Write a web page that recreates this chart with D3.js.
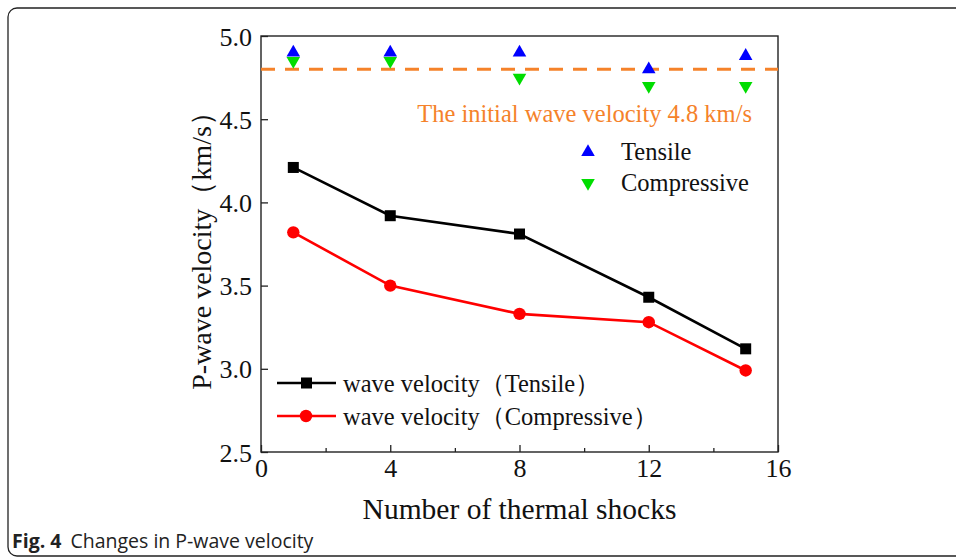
<!DOCTYPE html>
<html>
<head>
<meta charset="utf-8">
<script src="https://cdn.jsdelivr.net/npm/d3@7"></script>
<style>
  body { margin: 0; background: #fff; }
  svg { display: block; }
</style>
</head>
<body>
<div id="chart"></div>
<script>
// *** DATA ***
let shocks = [1, 4, 8, 12, 15];
let velTensile = [4.21, 3.92, 3.81, 3.43, 3.12];
let velCompressive = [3.82, 3.50, 3.33, 3.28, 2.99];
let triTensile = [4.90, 4.90, 4.90, 4.80, 4.88];
let triCompressive = [4.85, 4.85, 4.75, 4.70, 4.70];
let initialVelocity = 4.8;
let xTicks = [0, 4, 8, 12, 16];
let xMinorTicks = [2, 6, 10, 14];
let yTicks = [2.5, 3.0, 3.5, 4.0, 4.5, 5.0];

// *** SETTINGS ***
let width = 956, height = 559;
let plot = {left: 261, right: 778, top: 36, bottom: 452};
let serif = "'Liberation Serif', 'Times New Roman', serif";
let colors = {orange: "#f5822a", blue: "#0000ff", green: "#00dd00", red: "#ff0000", black: "#000"};
let legendFont = "24.5px";

let svg = d3.select("#chart").append("svg")
  .attr("width", width)
  .attr("height", height);

// outer frame
svg.append("rect")
  .attr("x", 8).attr("y", 8)
  .attr("width", 980).attr("height", 548)
  .attr("rx", 9).attr("ry", 9)
  .attr("fill", "none")
  .attr("stroke", "#222")
  .attr("stroke-width", 1.3);

// scales
let x = d3.scaleLinear().domain([0, 16]).range([plot.left, plot.right]);
let y = d3.scaleLinear().domain([2.5, 5.0]).range([plot.bottom, plot.top]);

// axes (ticks inside)
let xAxis = svg.append("g")
  .attr("transform", `translate(0,${plot.bottom})`)
  .call(d3.axisBottom(x).tickValues(xTicks).tickSize(-7).tickPadding(7).tickFormat(d3.format("d")));
svg.append("g")
  .attr("transform", `translate(0,${plot.bottom})`)
  .call(d3.axisBottom(x).tickValues(xMinorTicks).tickSize(-4).tickFormat(""))
  .call(g => g.select(".domain").remove())
  .selectAll("line").attr("stroke", "#222").attr("stroke-width", 1.3);

let yAxis = svg.append("g")
  .attr("transform", `translate(${plot.left},0)`)
  .call(d3.axisLeft(y).tickValues(yTicks).tickSize(-7).tickPadding(9).tickFormat(d3.format(".1f")));

[xAxis, yAxis].forEach(g => {
  g.selectAll("text").style("font-family", serif).style("font-size", "26px").attr("fill", "#111");
  g.selectAll("line").attr("stroke", "#222").attr("stroke-width", 1.3);
  g.select(".domain").remove();
});
xAxis.selectAll("text").attr("dy", "0.71em");
yAxis.selectAll("text").attr("dy", "0.35em");

// plot box
svg.append("rect")
  .attr("x", plot.left).attr("y", plot.top)
  .attr("width", plot.right - plot.left).attr("height", plot.bottom - plot.top)
  .attr("fill", "none")
  .attr("stroke", "#222")
  .attr("stroke-width", 1.4);

// axis titles
svg.append("text")
  .attr("x", (plot.left + plot.right) / 2)
  .attr("y", 519)
  .attr("text-anchor", "middle")
  .style("font-family", serif)
  .style("font-size", "29.5px")
  .attr("fill", "#111")
  .text("Number of thermal shocks");

svg.append("text")
  .attr("transform", `translate(211,${(plot.top + plot.bottom) / 2}) rotate(-90)`)
  .attr("text-anchor", "middle")
  .style("font-family", serif)
  .style("font-size", "28px")
  .attr("fill", "#111")
  .text("P-wave velocity（km/s）");

// initial velocity dashed line
svg.append("line")
  .attr("x1", plot.left).attr("x2", plot.right)
  .attr("y1", y(initialVelocity)).attr("y2", y(initialVelocity))
  .attr("stroke", colors.orange)
  .attr("stroke-width", 3)
  .attr("stroke-dasharray", "14,10");

svg.append("text")
  .attr("x", 752)
  .attr("y", 122)
  .attr("text-anchor", "end")
  .style("font-family", serif)
  .style("font-size", legendFont)
  .attr("fill", colors.orange)
  .text("The initial wave velocity 4.8 km/s");

// lines
let line = d3.line().x(d => x(d[0])).y(d => y(d[1]));
let tensileData = shocks.map((s, i) => [s, velTensile[i]]);
let compData = shocks.map((s, i) => [s, velCompressive[i]]);

svg.append("path").datum(tensileData)
  .attr("d", line).attr("fill", "none")
  .attr("stroke", colors.black).attr("stroke-width", 2.6);
svg.append("path").datum(compData)
  .attr("d", line).attr("fill", "none")
  .attr("stroke", colors.red).attr("stroke-width", 2.6);

svg.selectAll("rect.sq").data(tensileData).enter()
  .append("rect").attr("class", "sq")
  .attr("x", d => x(d[0]) - 5.5).attr("y", d => y(d[1]) - 5.5)
  .attr("width", 11).attr("height", 11)
  .attr("fill", colors.black);

svg.selectAll("circle.dot").data(compData).enter()
  .append("circle").attr("class", "dot")
  .attr("cx", d => x(d[0])).attr("cy", d => y(d[1]))
  .attr("r", 6.2)
  .attr("fill", colors.red);

// triangles
let tri = d3.symbol().type(d3.symbolTriangle).size(80);

svg.selectAll("path.up").data(shocks).enter()
  .append("path").attr("class", "up")
  .attr("d", tri)
  .attr("transform", (d, i) => `translate(${x(d)},${y(triTensile[i])})`)
  .attr("fill", colors.blue);

svg.selectAll("path.down").data(shocks).enter()
  .append("path").attr("class", "down")
  .attr("d", tri)
  .attr("transform", (d, i) => `translate(${x(d)},${y(triCompressive[i])}) rotate(180)`)
  .attr("fill", colors.green);

// legend for triangles
let lgTri = [
  {label: "Tensile", color: colors.blue, rot: 0, y: 152},
  {label: "Compressive", color: colors.green, rot: 180, y: 183}
];
lgTri.forEach(d => {
  svg.append("path")
    .attr("d", tri)
    .attr("transform", `translate(588,${d.y}) rotate(${d.rot})`)
    .attr("fill", d.color);
  svg.append("text")
    .attr("x", 621).attr("y", d.y + 8)
    .style("font-family", serif).style("font-size", legendFont)
    .attr("fill", "#111")
    .text(d.label);
});

// legend for lines
let lgLines = [
  {label: "wave velocity（Tensile）", color: colors.black, shape: "square", y: 383},
  {label: "wave velocity（Compressive）", color: colors.red, shape: "circle", y: 416}
];
lgLines.forEach(d => {
  svg.append("line")
    .attr("x1", 277).attr("x2", 336)
    .attr("y1", d.y).attr("y2", d.y)
    .attr("stroke", d.color).attr("stroke-width", 2.6);
  if (d.shape == "square") {
    svg.append("rect")
      .attr("x", 301).attr("y", d.y - 5.5)
      .attr("width", 11).attr("height", 11)
      .attr("fill", d.color);
  } else {
    svg.append("circle")
      .attr("cx", 306).attr("cy", d.y).attr("r", 6.2)
      .attr("fill", d.color);
  }
  svg.append("text")
    .attr("x", 343).attr("y", d.y + 9)
    .style("font-family", serif).style("font-size", legendFont)
    .attr("fill", "#111")
    .text(d.label);
});

// caption
let cap = svg.append("text")
  .attr("x", 12).attr("y", 548)
  .style("font-family", "'Open Sans', 'Noto Sans', sans-serif")
  .style("font-size", "19.5px")
  .attr("fill", "#222");
cap.append("tspan").style("font-weight", "bold").text("Fig. 4");
cap.append("tspan").attr("dx", 9).text("Changes in P-wave velocity");
</script>
</body>
</html>
